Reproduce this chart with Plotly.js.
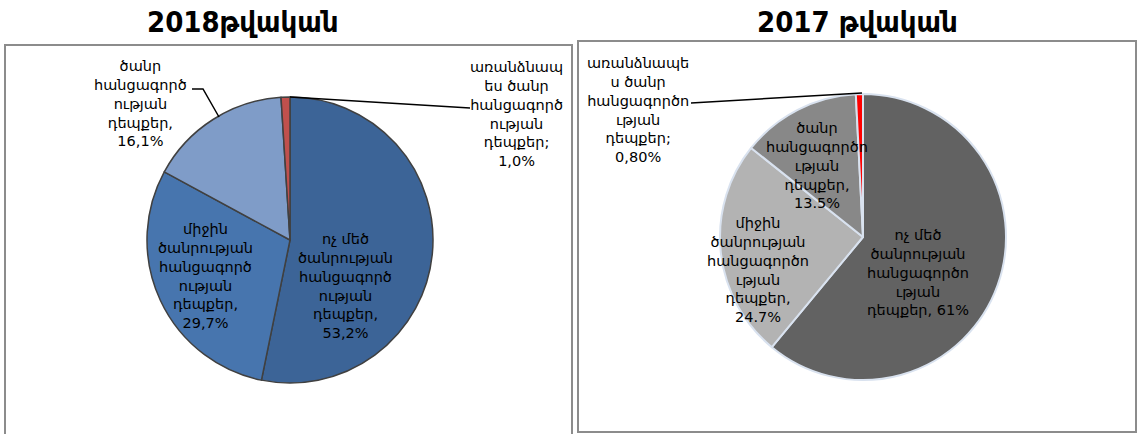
<!DOCTYPE html>
<html>
<head>
<meta charset="utf-8">
<script src="https://cdn.plot.ly/plotly-3.0.1.min.js"></script>
<style>html,body{margin:0;padding:0;background:#fff;}#chart{width:1138px;height:434px;}</style>
</head>
<body>
<div id="chart"></div>
<script>
// ---- data ----
const title2018 = "2018թվական";
const title2017 = "2017 թվական";

const categories2018 = [
  "ոչ մեծ<br>ծանրության<br>հանցագործ<br>ության<br>դեպքեր,",
  "միջին<br>ծանրության<br>հանցագործ<br>ության<br>դեպքեր,",
  "ծանր<br>հանցագործ<br>ության<br>դեպքեր,",
  "առանձնապ<br>ես ծանր<br>հանցագործ<br>ության<br>դեպքեր;"
];
const values2018 = [53.2, 29.7, 16.1, 1.0];
const valueLabels2018 = ["53,2%", "29,7%", "16,1%", "1,0%"];

const categories2017 = [
  "ոչ մեծ<br>ծանրության<br>հանցագործո<br>ւթյան<br>դեպքեր,",
  "միջին<br>ծանրության<br>հանցագործո<br>ւթյան<br>դեպքեր,",
  "ծանր<br>հանցագործո<br>ւթյան<br>դեպքեր,",
  "առանձնապե<br>ս ծանր<br>հանցագործո<br>ւթյան<br>դեպքեր;"
];
const values2017 = [61, 24.7, 13.5, 0.8];
const valueLabels2017 = ["61%", "24.7%", "13.5%", "0,80%"];

// ---- layout helpers ----
const W = 1138, H = 434;
const X = p => p / W;
const Y = p => 1 - p / H;

const colors2018 = ["#3C6497", "#4775AE", "#7F9CC8", "#C0504D"];
const colors2017 = ["#626262", "#B3B3B3", "#888888", "#FF0000"];

const labelFont = {family: "DejaVu Sans, sans-serif", size: 14.5, color: "#000"};

// label placement (pixel centres) and separators between label and value
const pos2018 = [[345, 286], [205, 276], [140, 104], [516, 114]];
const sep2018 = ["<br>", "<br>", "<br>", "<br>"];
const pos2017 = [[918, 272], [758, 270], [817, 165], [638, 110]];
const sep2017 = [" ", "<br>", "<br>", "<br>"];

const annotations = [];
function addLabels(cats, vals, pos, sep) {
  cats.forEach((c, i) => {
    annotations.push({
      xref: "paper", yref: "paper",
      x: X(pos[i][0]), y: Y(pos[i][1]),
      xanchor: "center", yanchor: "middle",
      text: c + sep[i] + vals[i],
      showarrow: false, align: "center",
      font: labelFont
    });
  });
}
addLabels(categories2018, valueLabels2018, pos2018, sep2018);
addLabels(categories2017, valueLabels2017, pos2017, sep2017);

const titleFont = {family: "DejaVu Sans Condensed, DejaVu Sans, sans-serif", size: 29, color: "#000", weight: "bold"};
annotations.push({xref: "paper", yref: "paper", x: X(243), y: Y(22), xanchor: "center", yanchor: "middle",
  text: "<b>" + title2018 + "</b>", showarrow: false, font: titleFont});
annotations.push({xref: "paper", yref: "paper", x: X(857), y: Y(22), xanchor: "center", yanchor: "middle",
  text: "<b>" + title2017 + "</b>", showarrow: false, font: titleFont});

const frameLine = {color: "#8C8C8C", width: 2};
const leader = {color: "#000", width: 1.5};
const shapes = [
  {type: "rect", xref: "paper", yref: "paper", x0: X(5), x1: X(572), y0: Y(444), y1: Y(45), line: frameLine},
  {type: "rect", xref: "paper", yref: "paper", x0: X(578), x1: X(1136), y0: Y(432), y1: Y(41), line: frameLine},
  // leader lines
  {type: "path", xref: "paper", yref: "paper",
   path: `M ${X(192)} ${Y(89)} L ${X(203)} ${Y(89)} L ${X(219)} ${Y(117)}`, line: leader},
  {type: "path", xref: "paper", yref: "paper",
   path: `M ${X(290)} ${Y(97)} L ${X(470)} ${Y(108)}`, line: leader},
  {type: "path", xref: "paper", yref: "paper",
   path: `M ${X(691)} ${Y(103)} L ${X(862)} ${Y(93)}`, line: leader}
];

const data = [
  {
    type: "pie", values: values2018, labels: categories2018, sort: false,
    direction: "clockwise", rotation: 0, textinfo: "none", hoverinfo: "none",
    marker: {colors: colors2018, line: {color: "#404040", width: 1.5}},
    domain: {x: [X(147), X(433)], y: [Y(383), Y(97)]}, showlegend: false
  },
  {
    type: "pie", values: values2017, labels: categories2017, sort: false,
    direction: "clockwise", rotation: 0, textinfo: "none", hoverinfo: "none",
    marker: {colors: colors2017, line: {color: "#D9E2EF", width: 2}},
    domain: {x: [X(720), X(1006)], y: [Y(380), Y(94)]}, showlegend: false
  }
];

const layout = {
  width: W, height: H,
  margin: {l: 0, r: 0, t: 0, b: 0},
  paper_bgcolor: "#fff",
  showlegend: false,
  annotations: annotations,
  shapes: shapes
};

Plotly.newPlot("chart", data, layout, {staticPlot: true, displayModeBar: false});
</script>
</body>
</html>
